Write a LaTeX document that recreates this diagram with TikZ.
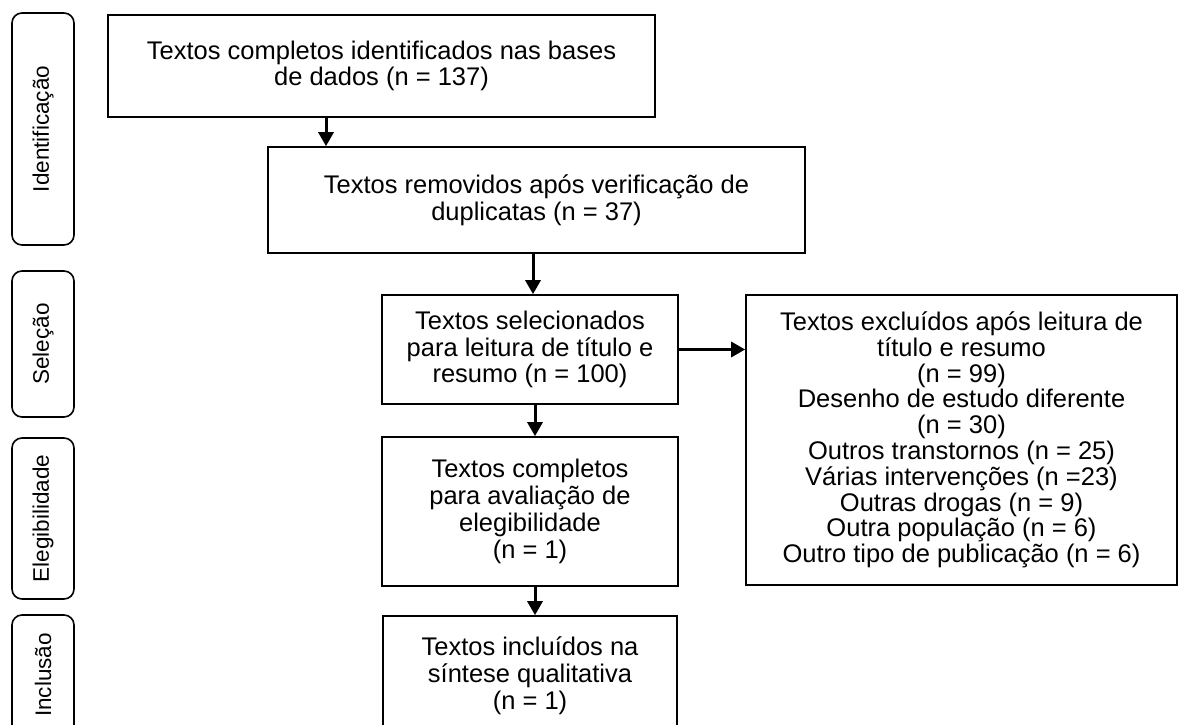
\documentclass[tikz,border=0pt]{standalone}
\usepackage{fontspec}
\setmainfont{Liberation Sans}
\usetikzlibrary{arrows.meta}
\begin{document}
\begin{tikzpicture}[x=1pt,y=-1pt,
  box/.style={draw=black, line width=1.6pt, align=center, inner sep=0pt,
    font=\fontsize{25.5}{26.8}\selectfont},
  stage/.style={draw=black, line width=1.6pt, rounded corners=10pt, rotate=90,
    inner sep=0pt, minimum height=62pt, font=\fontsize{22.5}{24}\selectfont},
  flow/.style={line width=3pt, -{Triangle[length=14pt,width=15pt]}}
]
\useasboundingbox (0,0) rectangle (1179,725);
\clip (0,0) rectangle (1179,725);
\fill[white] (0,0) rectangle (1179,725);

% stage labels
\node[stage, minimum width=232pt] (s1) at (43,129) {Identificação};
\node[stage, minimum width=146pt] (s2) at (43,344) {Seleção};
\node[stage, minimum width=161pt] (s3) at (43,518.5) {Elegibilidade};
\node[stage, minimum width=120pt] (s4) at (43,675) {Inclusão};

% main boxes
\node[box, minimum width=547pt, minimum height=102pt] (b1) at (381.5,66)
  {Textos completos identificados nas bases\\de dados (n = 137)};
\node[box, minimum width=537pt, minimum height=106pt] (b2) at (536.5,200)
  {Textos removidos após verificação de\\duplicatas (n = 37)};
\node[box, minimum width=296pt, minimum height=109pt] (b3) at (530,349.5)
  {Textos selecionados\\para leitura de título e\\resumo (n = 100)};
\node[box, minimum width=296pt, minimum height=149pt] (b4) at (530,511.5)
  {Textos completos\\para avaliação de\\elegibilidade\\(n = 1)};
\node[box, minimum width=294pt, minimum height=120pt] (b5) at (530,676)
  {Textos incluídos na\\síntese qualitativa\\(n = 1)};
\node[box, minimum width=431pt, minimum height=290pt,
  font=\fontsize{25.5}{25.8}\selectfont] (b6) at (961.5,440)
  {Textos excluídos após leitura de\\título e resumo\\(n = 99)\\Desenho de estudo diferente\\(n = 30)\\Outros transtornos (n = 25)\\Várias intervenções (n =23)\\Outras drogas (n = 9)\\Outra população (n = 6)\\Outro tipo de publicação (n = 6)};

% connectors
\coordinate (a1) at (326,0);
\coordinate (a2) at (533,0);
\coordinate (a3) at (535,0);
\draw[flow] (b1.south -| a1) -- (b2.north -| a1);
\draw[flow] (b2.south -| a2) -- (b3.north -| a2);
\draw[flow] (b3.south -| a3) -- (b4.north -| a3);
\draw[flow] (b4.south -| a3) -- (b5.north -| a3);
\draw[flow] (b3.east) -- (b6.west |- b3.east);
\end{tikzpicture}
\end{document}
